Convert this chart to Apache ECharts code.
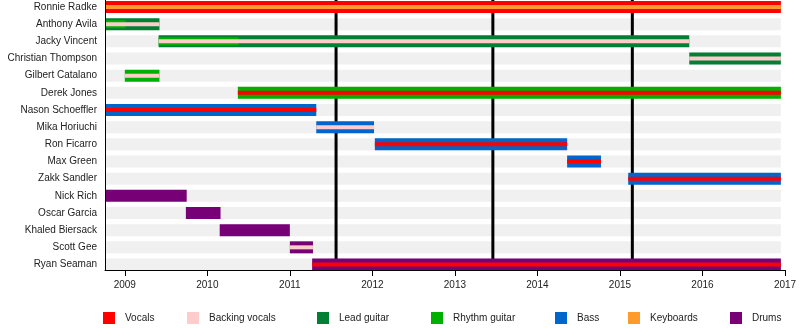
<!DOCTYPE html>
<html>
<head>
<meta charset="utf-8">
<script src="https://cdn.jsdelivr.net/npm/echarts@6/dist/echarts.min.js"></script>
<style>html,body{margin:0;padding:0;background:#fff}#c{width:800px;height:330px}</style>
</head>
<body>
<div id="c"></div>
<script>
// ---- data ----
const START = 2008.76;   // timeline start
const END = 2016.95;     // timeline end
const years = [2009, 2010, 2011, 2012, 2013, 2014, 2015, 2016, 2017];
const members = ['Ronnie Radke', 'Anthony Avila', 'Jacky Vincent', 'Christian Thompson', 'Gilbert Catalano',
  'Derek Jones', 'Nason Schoeffler', 'Mika Horiuchi', 'Ron Ficarro', 'Max Green', 'Zakk Sandler',
  'Nick Rich', 'Oscar Garcia', 'Khaled Biersack', 'Scott Gee', 'Ryan Seaman'];
const albumReleases = [2011.56, 2013.46, 2015.15];

// [member, from, to]
const vocalsMain = [['Ronnie Radke', START, END]];
const vocalsSecondary = [['Derek Jones', 2010.37, END], ['Nason Schoeffler', START, 2011.32],
  ['Ron Ficarro', 2012.03, 2014.36], ['Max Green', 2014.36, 2014.77], ['Zakk Sandler', 2015.10, END],
  ['Ryan Seaman', 2011.27, END]];
const backingVocals = [['Anthony Avila', START, 2009.42], ['Jacky Vincent', 2009.41, 2015.84],
  ['Christian Thompson', 2015.84, END], ['Gilbert Catalano', 2009.0, 2009.42],
  ['Mika Horiuchi', 2011.32, 2012.02], ['Scott Gee', 2011.0, 2011.28]];
const leadGuitar = [['Anthony Avila', START, 2009.42], ['Jacky Vincent', 2009.41, 2015.84],
  ['Christian Thompson', 2015.84, END]];
const rhythmGuitarMain = [['Gilbert Catalano', 2009.0, 2009.42], ['Derek Jones', 2010.37, END]];
const rhythmGuitarSecondary = [['Anthony Avila', START, 2009.01], ['Jacky Vincent', 2009.41, 2010.38]];
const bass = [['Nason Schoeffler', START, 2011.32], ['Mika Horiuchi', 2011.32, 2012.02],
  ['Ron Ficarro', 2012.03, 2014.36], ['Max Green', 2014.36, 2014.77], ['Zakk Sandler', 2015.10, END]];
const keyboards = [['Ronnie Radke', START, END]];
const drums = [['Nick Rich', START, 2009.75], ['Oscar Garcia', 2009.74, 2010.16],
  ['Khaled Biersack', 2010.15, 2011.0], ['Scott Gee', 2011.0, 2011.28], ['Ryan Seaman', 2011.27, END]];

// ---- styles ----
const COLORS = {
  'Vocals': '#ff0000', 'Backing vocals': '#ffcccc', 'Lead guitar': '#007f35',
  'Rhythm guitar': '#00b000', 'Bass': '#0066cc', 'Keyboards': '#ff9b2a', 'Drums': '#770077'
};
const FONT = '"Liberation Sans", Arial, Helvetica, sans-serif';
const TXT = '#222';

function toData(list) {
  return list.map(d => [d[1], d[2], members.indexOf(d[0])]);
}

function barSeries(name, list, thick, z2) {
  return {
    type: 'custom', name: name, z: 3, silent: true,
    itemStyle: { color: COLORS[name] },
    encode: { x: [0, 1], y: 2 },
    data: toData(list),
    renderItem: function (params, api) {
      const a = api.coord([api.value(0), api.value(2)]);
      const b = api.coord([api.value(1), api.value(2)]);
      return {
        type: 'rect', z2: z2,
        shape: { x: a[0], y: a[1] - thick / 2, width: b[0] - a[0], height: thick },
        style: { fill: api.visual('color') }
      };
    }
  };
}

const bgSeries = {
  type: 'custom', name: 'bg', z: 1, silent: true,
  data: members.map((m, i) => [START, END, i]),
  encode: { x: [0, 1], y: 2 },
  renderItem: function (params, api) {
    const a = api.coord([api.value(0), api.value(2)]);
    const b = api.coord([api.value(1), api.value(2)]);
    return { type: 'rect', shape: { x: a[0], y: a[1] - 6, width: b[0] - a[0], height: 12 }, style: { fill: '#f0f0f0' } };
  }
};

const lineSeries = {
  type: 'custom', name: 'releases', z: 2, silent: true,
  data: albumReleases.map(v => [v]),
  encode: { x: 0 },
  renderItem: function (params, api) {
    const cs = params.coordSys;
    const p = api.coord([api.value(0), 0]);
    return { type: 'line', shape: { x1: p[0], y1: cs.y, x2: p[0], y2: cs.y + cs.height }, style: { stroke: '#000', lineWidth: 3 } };
  }
};

const legendPos = [
  ['Vocals', 103], ['Backing vocals', 187], ['Lead guitar', 317], ['Rhythm guitar', 431],
  ['Bass', 555], ['Keyboards', 628], ['Drums', 730]
];

const option = {
  animation: false,
  backgroundColor: '#fff',
  textStyle: { fontFamily: FONT },
  grid: { left: 105, right: 15, top: 0, height: 270 },
  xAxis: {
    type: 'value', min: START, max: 2017, z: 10,
    splitLine: { show: false },
    axisLine: { show: true, onZero: false, lineStyle: { color: '#000', width: 1 } },
    axisTick: { show: true, customValues: years, length: 6, lineStyle: { color: '#000' } },
    axisLabel: { customValues: years, formatter: v => String(Math.round(v)), fontSize: 10, color: TXT, margin: 10, fontFamily: FONT }
  },
  yAxis: {
    type: 'value', inverse: true, min: -0.4078, max: 15.320, z: 10,
    splitLine: { show: false },
    axisLine: { show: true, onZero: false, lineStyle: { color: '#000', width: 1 } },
    axisTick: { show: false },
    axisLabel: { customValues: members.map((m, i) => i), formatter: v => members[Math.round(v)], fontSize: 10, color: TXT, margin: 8, fontFamily: FONT }
  },
  legend: legendPos.map(p => ({
    data: [p[0]], left: p[1], top: 312, padding: 0, icon: 'rect', itemWidth: 12, itemHeight: 12,
    selectedMode: false,
    textStyle: { fontSize: 10, color: TXT, fontFamily: FONT, padding: [0, 0, 0, 5] }
  })),
  series: [
    bgSeries, lineSeries,
    barSeries('Vocals', vocalsMain, 12, 0),
    barSeries('Backing vocals', backingVocals, 4, 2),
    barSeries('Lead guitar', leadGuitar, 12, 0),
    barSeries('Rhythm guitar', rhythmGuitarMain, 12, 0),
    barSeries('Rhythm guitar', rhythmGuitarSecondary, 8, 1),
    barSeries('Bass', bass, 12, 0),
    barSeries('Keyboards', keyboards, 4, 2),
    barSeries('Drums', drums, 12, 0),
    barSeries('Vocals', vocalsSecondary, 4, 2)
  ]
};
echarts.init(document.getElementById('c')).setOption(option);
</script>
</body>
</html>
